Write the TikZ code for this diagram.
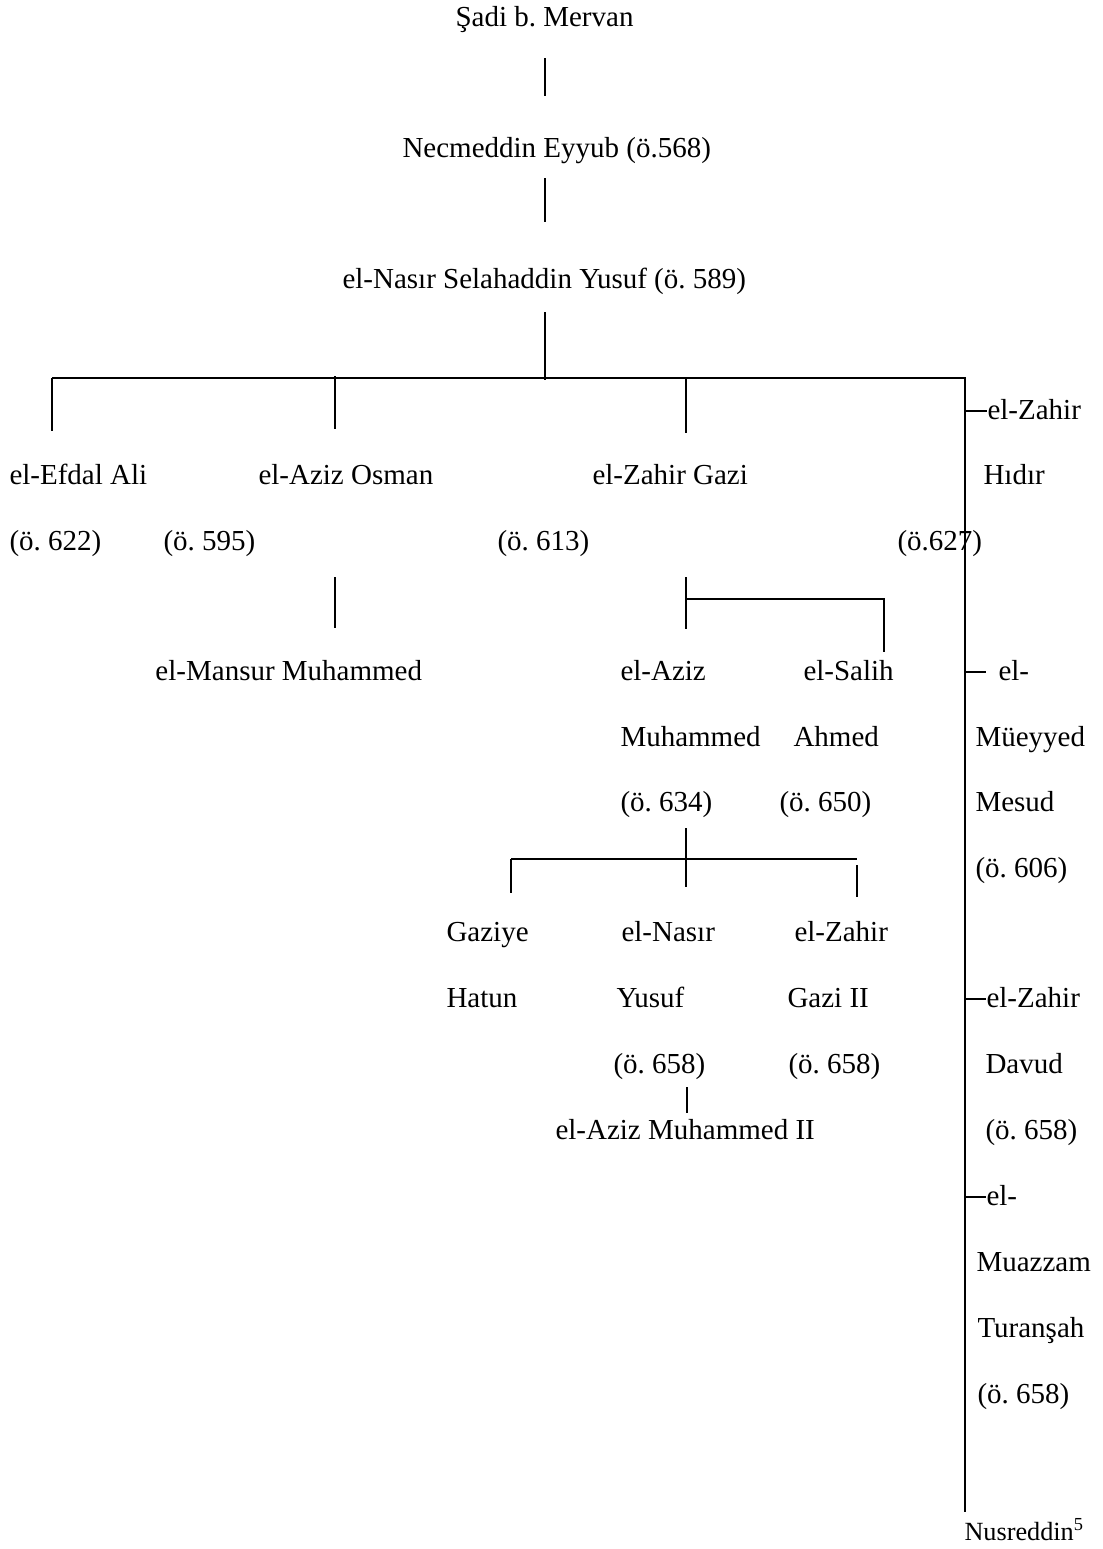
\documentclass[tikz,border=0pt]{standalone}
\usepackage{fontspec}
\setmainfont{Liberation Serif}
\usepackage{tikz}
\usetikzlibrary{positioning}
\frenchspacing
\begin{document}
\begin{tikzpicture}[x=0.4pt,y=-0.4pt,
    n/.style={anchor=base west,inner sep=0,font=\fontsize{11.6}{14}\selectfont},
    l/.style={line width=0.8pt}]
    \useasboundingbox (0,0) rectangle (1102,1549);
    \node[n] (sadi) at (455,26) {Şadi b. Mervan};
    \node[n] (necm) at (402,157) {Necmeddin Eyyub (ö.568)};
    \node[n] (sel) at (342,288) {el-Nasır Selahaddin Yusuf (ö. 589)};
    \node[n] (efdal) at (9,484) {el-Efdal Ali};
    \node[n] (efdald) at (9,550) {(ö. 622)};
    \node[n] (osman) at (258,484) {el-Aziz Osman};
    \node[n] (osmand) at (163,550) {(ö. 595)};
    \node[n] (gazi) at (592,484) {el-Zahir Gazi};
    \node[n] (gazid) at (497,550) {(ö. 613)};
    \node[n] (hidir) at (987,419) {el-Zahir};
    \node[n] (hidir2) at (983,484) {Hıdır};
    \node[n] (hidird) at (897,550) {(ö.627)};
    \node[n] (mansur) at (155,680) {el-Mansur Muhammed};
    \node[n] (aziz) at (620,680) {el-Aziz};
    \node[n] (aziz2) at (620,746) {Muhammed};
    \node[n] (azizd) at (620,811) {(ö. 634)};
    \node[n] (salih) at (803,680) {el-Salih};
    \node[n] (salih2) at (793,746) {Ahmed};
    \node[n] (salihd) at (779,811) {(ö. 650)};
    \node[n] (mesud) at (998,680) {el-};
    \node[n] (mesud2) at (975,746) {Müeyyed};
    \node[n] (mesud3) at (975,811) {Mesud};
    \node[n] (mesudd) at (975,877) {(ö. 606)};
    \node[n] (gaziye) at (446,941) {Gaziye};
    \node[n] (gaziye2) at (446,1007) {Hatun};
    \node[n] (yusuf) at (621,941) {el-Nasır};
    \node[n] (yusuf2) at (616,1007) {Yusuf};
    \node[n] (yusufd) at (613,1073) {(ö. 658)};
    \node[n] (gaziii) at (794,941) {el-Zahir};
    \node[n] (gaziii2) at (787,1007) {Gazi II};
    \node[n] (gaziiid) at (788,1073) {(ö. 658)};
    \node[n] (azizii) at (555,1139) {el-Aziz Muhammed II};
    \node[n] (davud) at (986,1007) {el-Zahir};
    \node[n] (davud2) at (985,1073) {Davud};
    \node[n] (davudd) at (985,1139) {(ö. 658)};
    \node[n] (turan) at (986,1205) {el-};
    \node[n] (turan2) at (976,1271) {Muazzam};
    \node[n] (turan3) at (977,1337) {Turanşah};
    \node[n] (turand) at (977,1403) {(ö. 658)};
    \node[n,font=\fontsize{10.5}{12}\selectfont] (nusr) at (964,1540) {Nusreddin\textsuperscript{5}};
    \coordinate (bl) at (52,378);
    \coordinate (br) at (965,378);
    \coordinate (bend) at (965,1512);
    \coordinate (gz) at (686,599);
    \coordinate (gzr) at (884,599);
    \coordinate (az) at (686,859);
    \coordinate (azl) at (511,859);
    \coordinate (azr) at (857,859);
    \draw[l] (545,58) -- (545,96);
    \draw[l] (545,178) -- (545,222);
    \draw[l] (545,312) -- (545,380);
    \draw[l] (bl) -- (br) -- (bend);
    \draw[l] (bl) -- (52,431);
    \draw[l] (335,376) -- (335,429);
    \draw[l] (686,378) -- (686,433);
    \draw[l] (965,411) -- (hidir.base west |- 0,411);
    \draw[l] (965,672) -- (986,672);
    \draw[l] (965,999) -- (davud.base west |- 0,999);
    \draw[l] (965,1197) -- (986,1197);
    \draw[l] (335,577) -- (335,628);
    \draw[l] (686,577) -- (686,629);
    \draw[l] (gz) -- (gzr) -- (884,652);
    \draw[l] (686,828) -- (686,887);
    \draw[l] (azl) -- (azr);
    \draw[l] (azl) -- (511,893);
    \draw[l] (857,865) -- (857,897);
    \draw[l] (687,1087) -- (687,1113);
\end{tikzpicture}
\end{document}
